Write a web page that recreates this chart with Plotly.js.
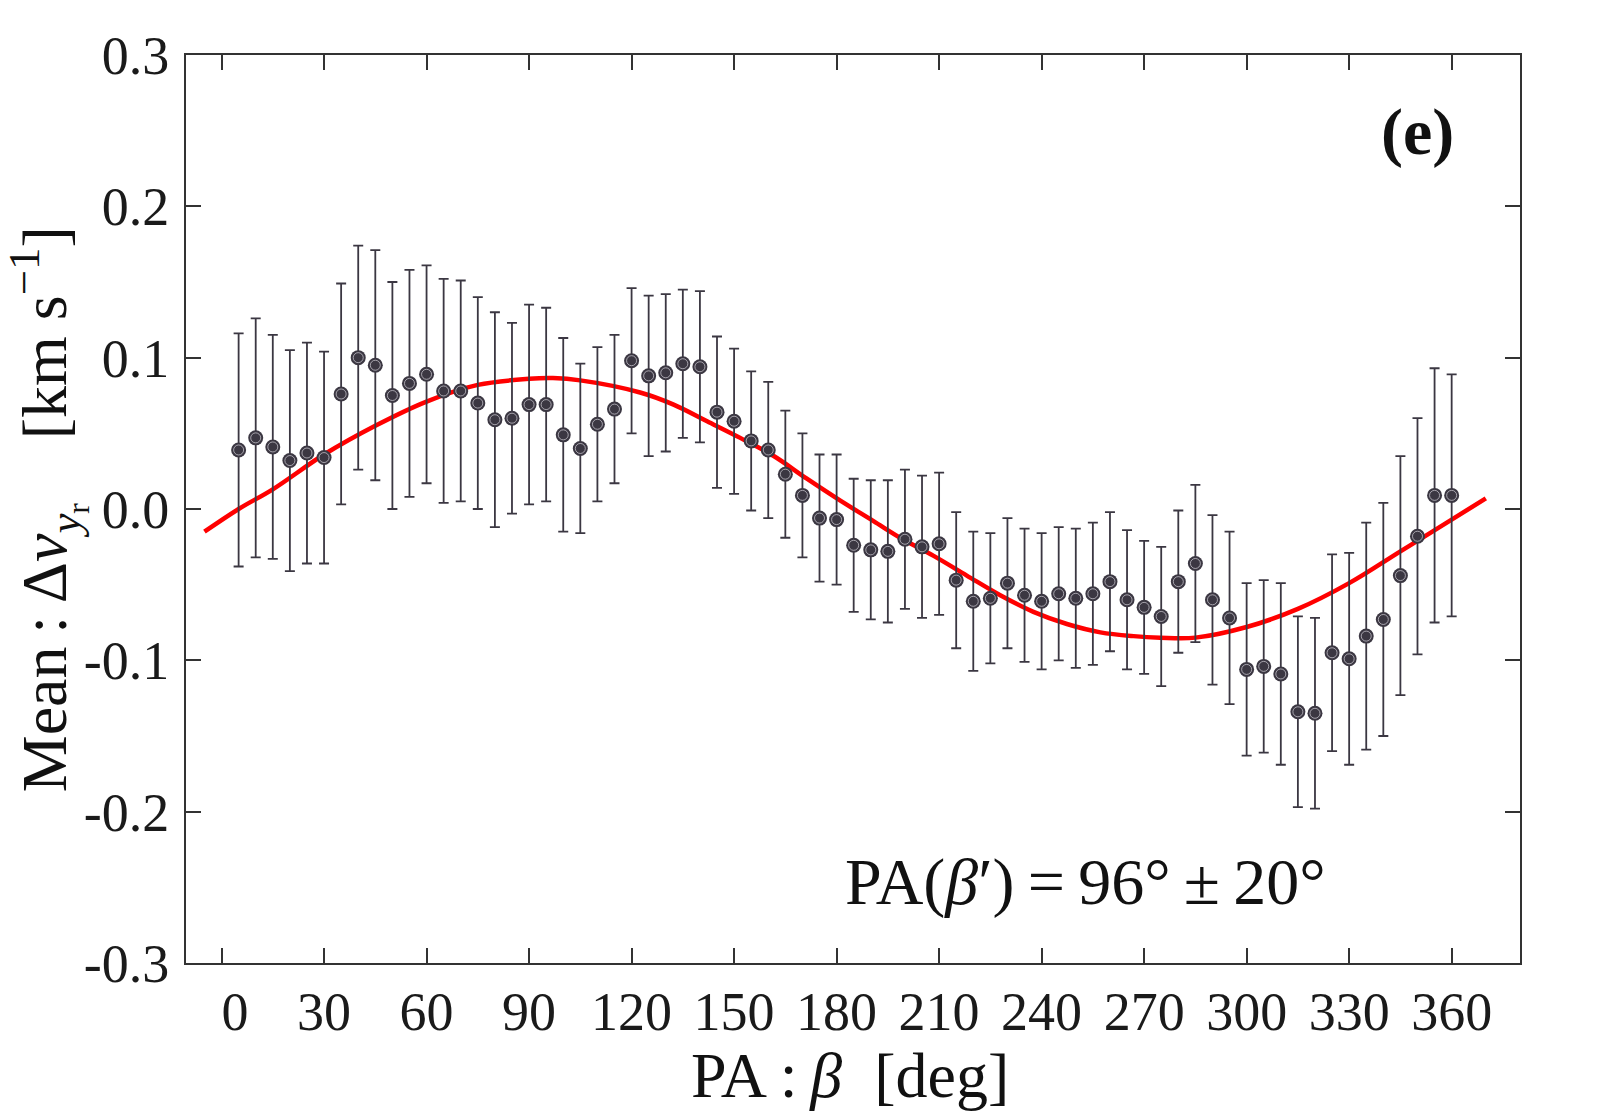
<!DOCTYPE html>
<html>
<head>
<meta charset="utf-8">
<script src="https://cdn.plot.ly/plotly-3.0.1.min.js"></script>
<style>
  html, body { margin: 0; padding: 0; background: #fff; }
  #chart { width: 1600px; height: 1120px; }
</style>
</head>
<body>
<div id="chart"></div>
<script>
// position angle bins (deg)
var pa = [5, 10, 15, 20, 25, 30, 35, 40, 45, 50,
          55, 60, 65, 70, 75, 80, 85, 90, 95, 100,
          105, 110, 115, 120, 125, 130, 135, 140, 145, 150,
          155, 160, 165, 170, 175, 180, 185, 190, 195, 200,
          205, 210, 215, 220, 225, 230, 235, 240, 245, 250,
          255, 260, 265, 270, 275, 280, 285, 290, 295, 300,
          305, 310, 315, 320, 325, 330, 335, 340, 345, 350,
          355, 360];

// mean velocity difference (km/s)
var meanDv = [0.039, 0.047, 0.041, 0.032, 0.037, 0.034, 0.076, 0.100, 0.095, 0.075,
              0.083, 0.089, 0.078, 0.078, 0.070, 0.059, 0.060, 0.069, 0.069, 0.049,
              0.040, 0.056, 0.066, 0.098, 0.088, 0.090, 0.096, 0.094, 0.064, 0.058,
              0.045, 0.039, 0.023, 0.009, -0.006, -0.007, -0.024, -0.027, -0.028, -0.020,
              -0.025, -0.023, -0.047, -0.061, -0.059, -0.049, -0.057, -0.061, -0.056, -0.059,
              -0.056, -0.048, -0.060, -0.065, -0.071, -0.048, -0.036, -0.060, -0.072, -0.106,
              -0.104, -0.109, -0.134, -0.135, -0.095, -0.099, -0.084, -0.073, -0.044, -0.018,
              0.009, 0.009];

// error bar half-lengths
var errDv = [0.077, 0.079, 0.074, 0.073, 0.073, 0.070, 0.073, 0.074, 0.076, 0.075,
             0.075, 0.072, 0.074, 0.073, 0.070, 0.071, 0.063, 0.066, 0.064, 0.064,
             0.056, 0.051, 0.049, 0.048, 0.053, 0.052, 0.049, 0.050, 0.050, 0.048,
             0.046, 0.045, 0.042, 0.041, 0.042, 0.043, 0.044, 0.046, 0.047, 0.046,
             0.047, 0.047, 0.045, 0.046, 0.043, 0.043, 0.044, 0.045, 0.044, 0.046,
             0.047, 0.046, 0.046, 0.044, 0.046, 0.047, 0.052, 0.056, 0.057, 0.057,
             0.057, 0.060, 0.063, 0.063, 0.065, 0.070, 0.075, 0.077, 0.079, 0.078,
             0.084, 0.080];

// fitted curve
var fitX = [-5, 5, 15, 30, 45, 60, 75, 90, 97, 105, 122.5, 132.3, 142.1, 151.8, 161.6, 171.3,
            181.1, 190.8, 198.6, 208.4, 218.1, 227.9, 237.6, 247.4, 257.2, 266.9, 274.7,
            285, 300, 315, 330, 345, 360, 370];
var fitY = [-0.015, 0.000, 0.013, 0.036, 0.055, 0.071, 0.082, 0.086, 0.0865, 0.085, 0.077, 0.069, 0.058, 0.047, 0.035, 0.020,
            0.0055, -0.008, -0.019, -0.031, -0.044, -0.057, -0.068, -0.076, -0.0815, -0.084, -0.085,
            -0.085, -0.078, -0.066, -0.049, -0.028, -0.007, 0.007];

var yTicks = [0.3, 0.2, 0.1, 0.0, -0.1, -0.2, -0.3];
var yTickText = ['0.3', '0.2', '0.1', '0.0', '-0.1', '-0.2', '-0.3'];
var xTicks = [0, 30, 60, 90, 120, 150, 180, 210, 240, 270, 300, 330, 360];
var xTickText = ['\u20020', '30', '60', '90', '120', '150', '180', '210', '240', '270', '300', '330', '360'];

var ink = '#3b3742';
var serif = 'Liberation Serif, Times New Roman, serif';

var fit = {
    x: fitX, y: fitY,
    mode: 'lines',
    line: {color: '#ff0000', width: 4.5, shape: 'spline', smoothing: 1},
    hoverinfo: 'skip'
};

var pts = {
    x: pa, y: meanDv,
    mode: 'markers',
    error_y: {type: 'data', array: errDv, visible: true, color: ink, thickness: 1.8, width: 5},
    marker: {color: ink, size: 15, line: {width: 0}}
};

// light ring inside each marker
var rings = {
    x: pa, y: meanDv,
    mode: 'markers',
    marker: {symbol: 'circle-open', color: 'rgba(200,198,206,0.75)', size: 10, line: {width: 1}},
    hoverinfo: 'skip'
};

var layout = {
    width: 1600, height: 1120,
    margin: {l: 186, r: 80, t: 55, b: 157},
    showlegend: false,
    paper_bgcolor: '#fff', plot_bgcolor: '#fff',
    font: {family: serif, color: '#1a1a1a'},
    xaxis: {
        range: [-10.4, 380],
        tickvals: xTicks, ticktext: xTickText,
        ticks: 'inside', ticklen: 15, tickwidth: 2, tickcolor: '#333',
        showline: true, linecolor: '#333', linewidth: 2, mirror: 'ticks',
        showgrid: false, zeroline: false,
        tickfont: {family: serif, size: 54, color: '#1a1a1a'}
    },
    yaxis: {
        range: [-0.3, 0.3],
        tickvals: yTicks, ticktext: yTickText,
        ticks: 'inside', ticklen: 15, tickwidth: 2, tickcolor: '#333',
        showline: true, linecolor: '#333', linewidth: 2, mirror: 'ticks',
        showgrid: false, zeroline: false, ticklabelstandoff: 4,
        tickfont: {family: serif, size: 54, color: '#1a1a1a'}
    },
    annotations: [
        {xref: 'paper', yref: 'paper', x: 0.498, y: -0.124, xanchor: 'center', yanchor: 'middle',
         showarrow: false, text: 'PA\u2009:\u2009<i>β</i>\u2002[deg]', font: {family: serif, size: 64, color: '#111'}},
        {xref: 'paper', yref: 'paper', x: -0.104, y: 0.5, xanchor: 'center', yanchor: 'middle',
         textangle: -90, showarrow: false,
         text: 'Mean\u2009:\u2009Δ<i>v</i><sub><i>y</i><sub>r</sub></sub>\u2003[km s<sup>−1</sup>]',
         font: {family: serif, size: 64, color: '#111'}},
        {xref: 'paper', yref: 'paper', x: 0.674, y: 0.089, xanchor: 'center', yanchor: 'middle',
         showarrow: false, text: 'PA(<i>β</i>′)\u2009=\u200996°\u2009±\u200920°', font: {family: serif, size: 66, color: '#111'}},
        {xref: 'paper', yref: 'paper', x: 0.923, y: 0.915, xanchor: 'center', yanchor: 'middle',
         showarrow: false, text: '<b>(e)</b>', font: {family: serif, size: 66, color: '#111'}}
    ]
};

Plotly.newPlot('chart', [fit, pts, rings], layout, {staticPlot: true});
</script>
</body>
</html>
